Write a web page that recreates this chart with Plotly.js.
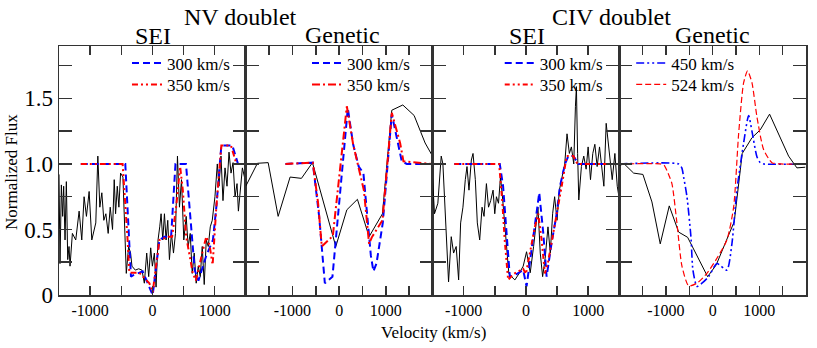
<!DOCTYPE html>
<html>
<head>
<meta charset="utf-8">
<script src="https://cdn.plot.ly/plotly-3.0.1.min.js"></script>
<style>
  html, body { margin: 0; padding: 0; background: #fff; }
  #chart { width: 817px; height: 348px; }
</style>
</head>
<body>
<div id="chart"></div>
<script>
// NV doublet, SEI fit
const nvSeiObsX = [-1500,-1484,-1462,-1441,-1425,-1403,-1382,-1360,-1339,-1323,-1285,-1231,-1177,-1134,-1097,-1059,-1016,-973,-909,-876,-844,-812,-780,-747,-710,-677,-640,-613,-591,-564,-538,-511,-473,-441,-419,-382,-350,-328,-274,-220,-167,-129,-91,-59,-27,0,32,59,91,118,140,167,194,220,247,274,306,339,371,403,435,468,505,543,575,608,640,672,704,737,769,801,833,866,898,930,962,1005,1043,1070,1102,1134,1167,1199,1231,1263,1296,1328,1360,1382,1414,1446,1489];
const nvSeiObsY = [0.92,0.24,0.84,0.60,0.83,0.42,0.865,0.27,0.37,0.22,0.47,0.42,0.64,0.42,0.75,0.60,0.79,0.42,0.55,1.06,0.67,0.78,0.57,0.62,0.47,0.67,0.50,0.88,0.62,0.83,0.67,0.93,0.90,0.47,0.165,0.37,0.32,0.22,0.19,0.20,0.19,0.09,0.32,0.14,0.36,0.22,0.32,0.06,0.42,0.52,0.62,0.42,0.62,0.42,0.57,0.27,0.47,0.32,0.47,1.06,0.67,0.88,0.42,0.60,0.37,0.47,0.165,0.32,0.09,0.22,0.14,0.37,0.08,0.42,0.37,0.52,0.57,0.75,1.0,0.83,1.06,0.72,0.97,0.83,1.09,0.93,1.01,0.75,0.85,0.64,0.83,0.97,0.88];
const nvSei300X = [-1150,-435,-344,-312,-156,5,113,194,301,371,540,680,740,866,973,1027,1108,1285,1376,1500];
const nvSei300Y = [1.0,1.0,0.14,0.15,0.18,0.0,0.42,0.445,0.445,1.0,1.0,0.19,0.11,0.30,0.42,0.67,1.14,1.14,1.0,1.0];
const nvSei350X = [-1150,-478,-398,-370,-210,-48,5,113,263,317,382,446,489,543,650,700,811,866,919,968,1027,1108,1263,1350,1500];
const nvSei350Y = [1.0,1.0,0.42,0.17,0.17,0.09,0.02,0.42,0.445,0.445,0.67,0.98,0.80,0.445,0.165,0.11,0.34,0.445,0.38,0.23,0.67,1.14,1.14,1.0,1.0];

// NV doublet, genetic fit
const nvGenObsX = [-2000,-1750,-1520,-1306,-1050,-807,-571,-71,165,392,642,928,1128,1364,1606,1842,1984];
const nvGenObsY = [0.83,1.005,1.01,0.60,0.90,0.89,1.01,0.37,0.65,0.73,0.445,0.62,1.41,1.45,1.37,1.16,1.07];
const nvGen300X = [-1150,-564,-428,-357,-306,-143,186,300,420,520,600,680,735,800,935,1128,1342,1450,2000];
const nvGen300Y = [1.0,1.01,0.60,0.29,0.09,0.14,1.425,1.15,0.98,0.93,0.60,0.30,0.18,0.24,0.55,1.38,1.02,1.0,1.0];
const nvGen350X = [-1150,-564,-450,-371,-135,165,300,413,530,642,700,928,1128,1306,1378,2000];
const nvGen350Y = [1.0,1.01,0.70,0.37,0.45,1.44,1.15,0.98,0.80,0.39,0.44,0.57,1.39,1.16,1.02,1.0];

// CIV doublet, SEI fit
const civSeiObsX = [-1521,-1468,-1414,-1360,-1333,-1306,-1280,-1242,-1199,-1161,-1120,-1080,-1048,-1011,-973,-946,-914,-876,-849,-812,-780,-742,-704,-672,-634,-600,-565,-527,-500,-473,-440,-408,-380,-355,-312,-274,-231,-177,-108,-43,11,43,70,124,161,194,231,269,310,355,392,430,462,500,538,581,624,661,699,731,769,796,812,831,850,892,930,968,1000,1038,1075,1108,1145,1183,1215,1253,1290,1323,1360,1387,1430,1468,1495];
const civSeiObsY = [1.08,0.62,0.70,1.06,1.0,0.75,0.42,0.10,0.445,0.32,0.37,0.115,0.55,0.67,0.88,0.98,0.80,1.03,1.08,0.88,0.55,0.42,0.67,0.60,0.85,0.67,0.72,0.80,0.62,0.75,0.70,0.90,0.77,0.62,0.34,0.165,0.14,0.115,0.165,0.22,0.33,0.25,0.17,0.37,0.55,0.67,0.32,0.14,0.28,0.52,0.32,0.62,0.75,0.57,0.80,0.90,1.0,1.23,1.08,1.13,1.0,1.44,1.59,1.08,0.725,0.98,1.06,0.96,1.13,0.88,1.08,1.15,0.98,1.13,0.98,0.83,1.31,1.18,1.03,0.88,1.08,0.83,0.75];
const civSei300X = [-1150,-419,-366,-312,-258,-150,-43,11,91,172,215,280,333,414,495,548,629,683,763,844,1500];
const civSei300Y = [1.0,1.0,0.83,0.47,0.14,0.16,0.19,0.065,0.34,0.60,0.78,0.47,0.14,0.40,0.62,0.83,1.0,1.06,1.06,1.0,1.0];
const civSei350X = [-1150,-430,-380,-340,-285,-200,-43,0,145,199,253,306,360,441,500,575,656,763,828,1500];
const civSei350Y = [1.0,1.0,0.72,0.42,0.115,0.16,0.20,0.16,0.52,0.62,0.42,0.165,0.26,0.47,0.62,0.83,1.06,1.06,1.0,1.0];

// CIV doublet, genetic fit
const civGenObsX = [-2000,-1893,-1692,-1493,-1300,-1122,-929,-728,-535,-107,77,463,634,842,1020,1220,1627,1805,1983];
const civGenObsY = [0.99,1.0,0.93,0.92,0.71,0.39,0.68,0.48,0.44,0.14,0.23,0.56,1.08,1.20,1.26,1.38,1.06,0.97,0.975];
const civGen450X = [-2000,-728,-660,-621,-550,-465,-422,-336,-229,-86,92,306,413,520,664,771,842,949,1020,1092,2000];
const civGen450Y = [1.0,1.0,0.97,0.90,0.75,0.445,0.19,0.065,0.09,0.14,0.24,0.19,0.39,0.80,1.16,1.37,1.25,1.055,1.01,1.0,1.0];
const civGen524X = [-2000,-1122,-1040,-979,-872,-765,-657,-514,-336,-122,92,306,450,557,664,749,842,949,1092,1270,1450,2000];
const civGen524Y = [1.0,1.0,0.99,0.95,0.85,0.55,0.22,0.07,0.09,0.165,0.28,0.42,0.67,1.23,1.62,1.71,1.62,1.36,1.11,1.01,1.0,1.0];

const yTickVals = [0, 0.5, 1.0, 1.5];
const yTickText = ['0', '0.5', '1.0', '1.5'];
const xTickVals = [-1000, 0, 1000];
const xTickText = ['-1000', '0', '1000'];

const serif = "'Liberation Serif', 'Times New Roman', serif";
const frame = '#333';
const blue = '#0000ff';
const red = '#ff0000';

function obs(x, y, n) {
  return {x: x, y: y, xaxis: 'x' + n, yaxis: 'y' + n, mode: 'lines',
          line: {color: '#000', width: 1}, showlegend: false, hoverinfo: 'skip'};
}
function fit(x, y, n, name, color, dash, width, leg, shape) {
  return {x: x, y: y, xaxis: 'x' + n, yaxis: 'y' + n, mode: 'lines', name: name, legend: leg,
          line: {color: color, dash: dash, width: width, shape: shape || 'linear', smoothing: 0.6}};
}

const data = [
  obs(nvSeiObsX, nvSeiObsY, ''),
  fit(nvSei300X, nvSei300Y, '', '300 km/s', blue, '7px,4px', 2, 'legend'),
  fit(nvSei350X, nvSei350Y, '', '350 km/s', red, '6px,3px,2px,3px,2px,3px', 2, 'legend2'),

  obs(nvGenObsX, nvGenObsY, '2'),
  fit(nvGen300X, nvGen300Y, '2', '300 km/s', blue, '7px,4px', 2, 'legend3'),
  fit(nvGen350X, nvGen350Y, '2', '350 km/s', red, '8px,3px,2px,3px', 2, 'legend4'),

  obs(civSeiObsX, civSeiObsY, '3'),
  fit(civSei300X, civSei300Y, '3', '300 km/s', blue, '7px,4px', 2, 'legend5'),
  fit(civSei350X, civSei350Y, '3', '350 km/s', red, '5px,3px,2px,3px,2px,3px', 2, 'legend6'),

  obs(civGenObsX, civGenObsY, '4'),
  fit(civGen450X, civGen450Y, '4', '450 km/s', blue, '8px,3px,2px,3px,2px,3px', 1.6, 'legend7', 'spline'),
  fit(civGen524X, civGen524Y, '4', '524 km/s', red, '6px,3px', 1.2, 'legend8', 'spline')
];

function xAxis(domain, range) {
  return {domain: domain, range: range, showline: true, mirror: 'ticks', linecolor: frame, linewidth: 1.5,
          ticks: 'inside', ticklen: 9, tickwidth: 1.5, tickcolor: frame,
          tickvals: xTickVals, ticktext: xTickText,
          minor: {dtick: 500, tick0: 0, ticks: 'inside', ticklen: 9, tickwidth: 1.5, tickcolor: frame},
          tickfont: {family: serif, size: 16, color: '#000'}, ticklabelstandoff: 0,
          showgrid: false, zeroline: false, fixedrange: true};
}
function yAxis(anchor, labels) {
  return {anchor: anchor, range: [0, 1.9], showline: true, mirror: 'ticks', linecolor: frame, linewidth: 1.5,
          ticks: 'inside', ticklen: 13, tickwidth: 1.5, tickcolor: frame,
          tickvals: yTickVals, ticktext: yTickText, showticklabels: labels,
          minor: {dtick: 0.25, tick0: 0, ticks: 'inside', ticklen: 13, tickwidth: 1.5, tickcolor: frame},
          tickfont: {family: serif, size: 23, color: '#000'},
          showgrid: false, zeroline: false, fixedrange: true};
}
// one legend per row so the row spacing can follow the picture
function legendAt(x, y) {
  return {x: x, y: y, xanchor: 'left', yanchor: 'top', bgcolor: 'rgba(0,0,0,0)',
          font: {family: serif, size: 17, color: '#000'}, itemwidth: 30, itemclick: false};
}
function label(text, x, y, size) {
  return {text: text, x: x, y: y, xref: 'paper', yref: 'paper', xanchor: 'center', yanchor: 'middle',
          showarrow: false, font: {family: serif, size: size, color: '#000'}};
}

const rowTop = 1.002;
const rowNext = 0.916;

const layout = {
  width: 817, height: 348,
  margin: {l: 59, r: 11, t: 46, b: 53},
  font: {family: serif, color: '#000'},
  paper_bgcolor: '#fff', plot_bgcolor: '#fff',
  xaxis: xAxis([0, 0.25], [-1500, 1500]),
  xaxis2: xAxis([0.25, 0.5], [-2000, 2000]),
  xaxis3: xAxis([0.5, 0.75], [-1500, 1500]),
  xaxis4: xAxis([0.75, 1], [-2000, 2000]),
  yaxis: yAxis('x', true),
  yaxis2: yAxis('x2', false),
  yaxis3: yAxis('x3', false),
  yaxis4: yAxis('x4', false),
  legend: legendAt(0.091, rowTop),
  legend2: legendAt(0.091, rowNext),
  legend3: legendAt(0.332, rowTop),
  legend4: legendAt(0.332, rowNext),
  legend5: legendAt(0.590, rowTop),
  legend6: legendAt(0.590, rowNext),
  legend7: legendAt(0.766, rowTop),
  legend8: legendAt(0.766, rowNext),
  annotations: [
    label('NV doublet', 0.243, 1.116, 24),
    label('CIV doublet', 0.740, 1.116, 24),
    label('SEI', 0.1265, 1.040, 24),
    label('Genetic', 0.3795, 1.044, 24),
    label('SEI', 0.6265, 1.040, 24),
    label('Genetic', 0.8742, 1.044, 24),
    label('Velocity (km/s)', 0.5007, -0.1486, 17),
    Object.assign(label('Normalized Flux', -0.0629, 0.494, 17), {textangle: -90})
  ],
  showlegend: true
};

Plotly.newPlot('chart', data, layout, {displayModeBar: false, staticPlot: true});
</script>
</body>
</html>
